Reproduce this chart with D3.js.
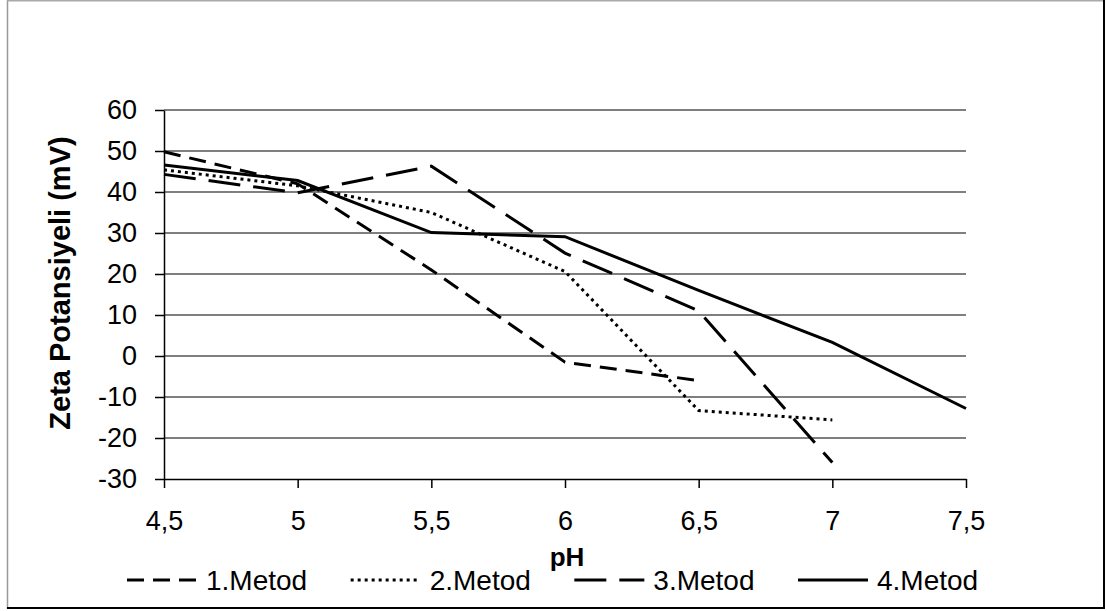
<!DOCTYPE html>
<html>
<head>
<meta charset="utf-8">
<script src="https://cdn.jsdelivr.net/npm/d3@7"></script>
<style>
  body { margin: 0; background: #fff; }
  svg { display: block; font-family: 'Liberation Sans', Arial, sans-serif; }
</style>
</head>
<body>
<script>
const ph = [4.5, 5, 5.5, 6, 6.5, 7, 7.5]
const metod1 = [49.8, 42, 21, -1.5, -6, null, null]
const metod2 = [45.4, 41.5, 35, 20.6, -13.3, -15.6, null]
const metod3 = [44.3, 39.8, 46.3, 25.1, 11, -26, null]
const metod4 = [46.6, 42.8, 30.1, 29.1, 16, 3.3, -12.8]
const seriesNames = ['1.Metod', '2.Metod', '3.Metod', '4.Metod']
const xTicks = [4.5, 5, 5.5, 6, 6.5, 7, 7.5]
const yTicks = [-30, -20, -10, 0, 10, 20, 30, 40, 50, 60]

draw()

function draw() {
  const width = 1107
  const height = 611
  const margin = { left: 164, top: 110, right: 141, bottom: 132 }
  const innerWidth = width - margin.left - margin.right
  const innerHeight = height - margin.top - margin.bottom

  const svg = d3.select('body')
    .append('svg')
    .attr('width', width)
    .attr('height', height)

  // frame with the darker right/bottom edge
  svg.append('line').attr('x1', 7.5).attr('x2', 7.5).attr('y1', 0).attr('y2', 609)
    .attr('stroke', '#999').attr('stroke-width', 1.5)
  svg.append('line').attr('x1', 7).attr('x2', 1105).attr('y1', 0.75).attr('y2', 0.75)
    .attr('stroke', '#aaa').attr('stroke-width', 1.5)
  svg.append('line').attr('x1', 1104).attr('x2', 1104).attr('y1', 0).attr('y2', 609)
    .attr('stroke', '#000').attr('stroke-width', 2)
  svg.append('line').attr('x1', 7).attr('x2', 1105).attr('y1', 608).attr('y2', 608)
    .attr('stroke', '#000').attr('stroke-width', 2)

  const g = svg.append('g')
    .attr('transform', `translate(${margin.left},${margin.top})`)

  const xScale = d3.scaleLinear().domain([4.5, 7.5]).range([0, innerWidth])
  const yScale = d3.scaleLinear().domain([-30, 60]).range([innerHeight, 0])

  // horizontal gridlines
  g.append('g')
    .selectAll('line')
    .data(yTicks.filter(d => d > -30))
    .enter()
    .append('line')
    .attr('x1', 0)
    .attr('x2', innerWidth)
    .attr('y1', d => yScale(d))
    .attr('y2', d => yScale(d))
    .attr('stroke', '#555')
    .attr('stroke-width', 1.5)

  const yAxis = d3.axisLeft(yScale)
    .tickValues(yTicks)
    .tickSize(9)
    .tickSizeOuter(0)
    .tickPadding(18)
    .tickFormat(d => String(d))
  const xAxis = d3.axisBottom(xScale)
    .tickValues(xTicks)
    .tickSize(9)
    .tickSizeOuter(0)
    .tickPadding(23)
    .tickFormat(d => String(d).replace('.', ','))

  const yAxisG = g.append('g').call(yAxis)
  const xAxisG = g.append('g')
    .attr('transform', `translate(0,${innerHeight})`)
    .call(xAxis)

  ;[xAxisG, yAxisG].forEach(a => {
    a.select('.domain').attr('stroke', '#000').attr('stroke-width', 1.5)
    a.selectAll('.tick line').attr('stroke', '#000').attr('stroke-width', 1.5)
    a.selectAll('.tick text')
      .attr('fill', '#000')
      .style('font-size', '27px')
      .style('font-family', "'Liberation Sans', Arial, sans-serif")
  })

  const styles = [
    { dash: '17,9', width: 3 },
    { dash: '3,4', width: 3 },
    { dash: '32,13', width: 3 },
    { dash: null, width: 3 }
  ]
  const allSeries = [metod1, metod2, metod3, metod4].map((values, i) => ({
    name: seriesNames[i],
    style: styles[i],
    points: ph.map((p, j) => ({ p, v: values[j] }))
  }))

  const line = d3.line()
    .defined(d => d.v != null)
    .x(d => xScale(d.p))
    .y(d => yScale(d.v))

  g.selectAll('path.series')
    .data(allSeries)
    .enter()
    .append('path')
    .attr('class', 'series')
    .attr('fill', 'none')
    .attr('stroke', '#000')
    .attr('stroke-width', d => d.style.width)
    .attr('stroke-dasharray', d => d.style.dash)
    .attr('d', d => line(d.points))

  // axis titles
  svg.append('text')
    .attr('transform', 'translate(70,283) rotate(-90)')
    .style('text-anchor', 'middle')
    .style('font-size', '29px')
    .style('font-weight', 'bold')
    .text('Zeta Potansiyeli (mV)')

  svg.append('text')
    .attr('x', 567)
    .attr('y', 566)
    .style('text-anchor', 'middle')
    .style('font-size', '26px')
    .style('font-weight', 'bold')
    .text('pH')

  // legend
  const legendX = d3.scalePoint().domain(seriesNames).range([127, 798])
  const legendY = 580
  const items = svg.append('g')
    .selectAll('g')
    .data(allSeries)
    .enter()
    .append('g')
    .attr('transform', d => `translate(${legendX(d.name)},${legendY})`)

  items.append('line')
    .attr('x1', 0)
    .attr('x2', 70)
    .attr('stroke', '#000')
    .attr('stroke-width', d => d.style.width)
    .attr('stroke-dasharray', d => d.style.dash)

  items.append('text')
    .attr('x', 79)
    .attr('dy', '0.35em')
    .style('font-size', '28px')
    .text(d => d.name)
}
</script>
</body>
</html>
